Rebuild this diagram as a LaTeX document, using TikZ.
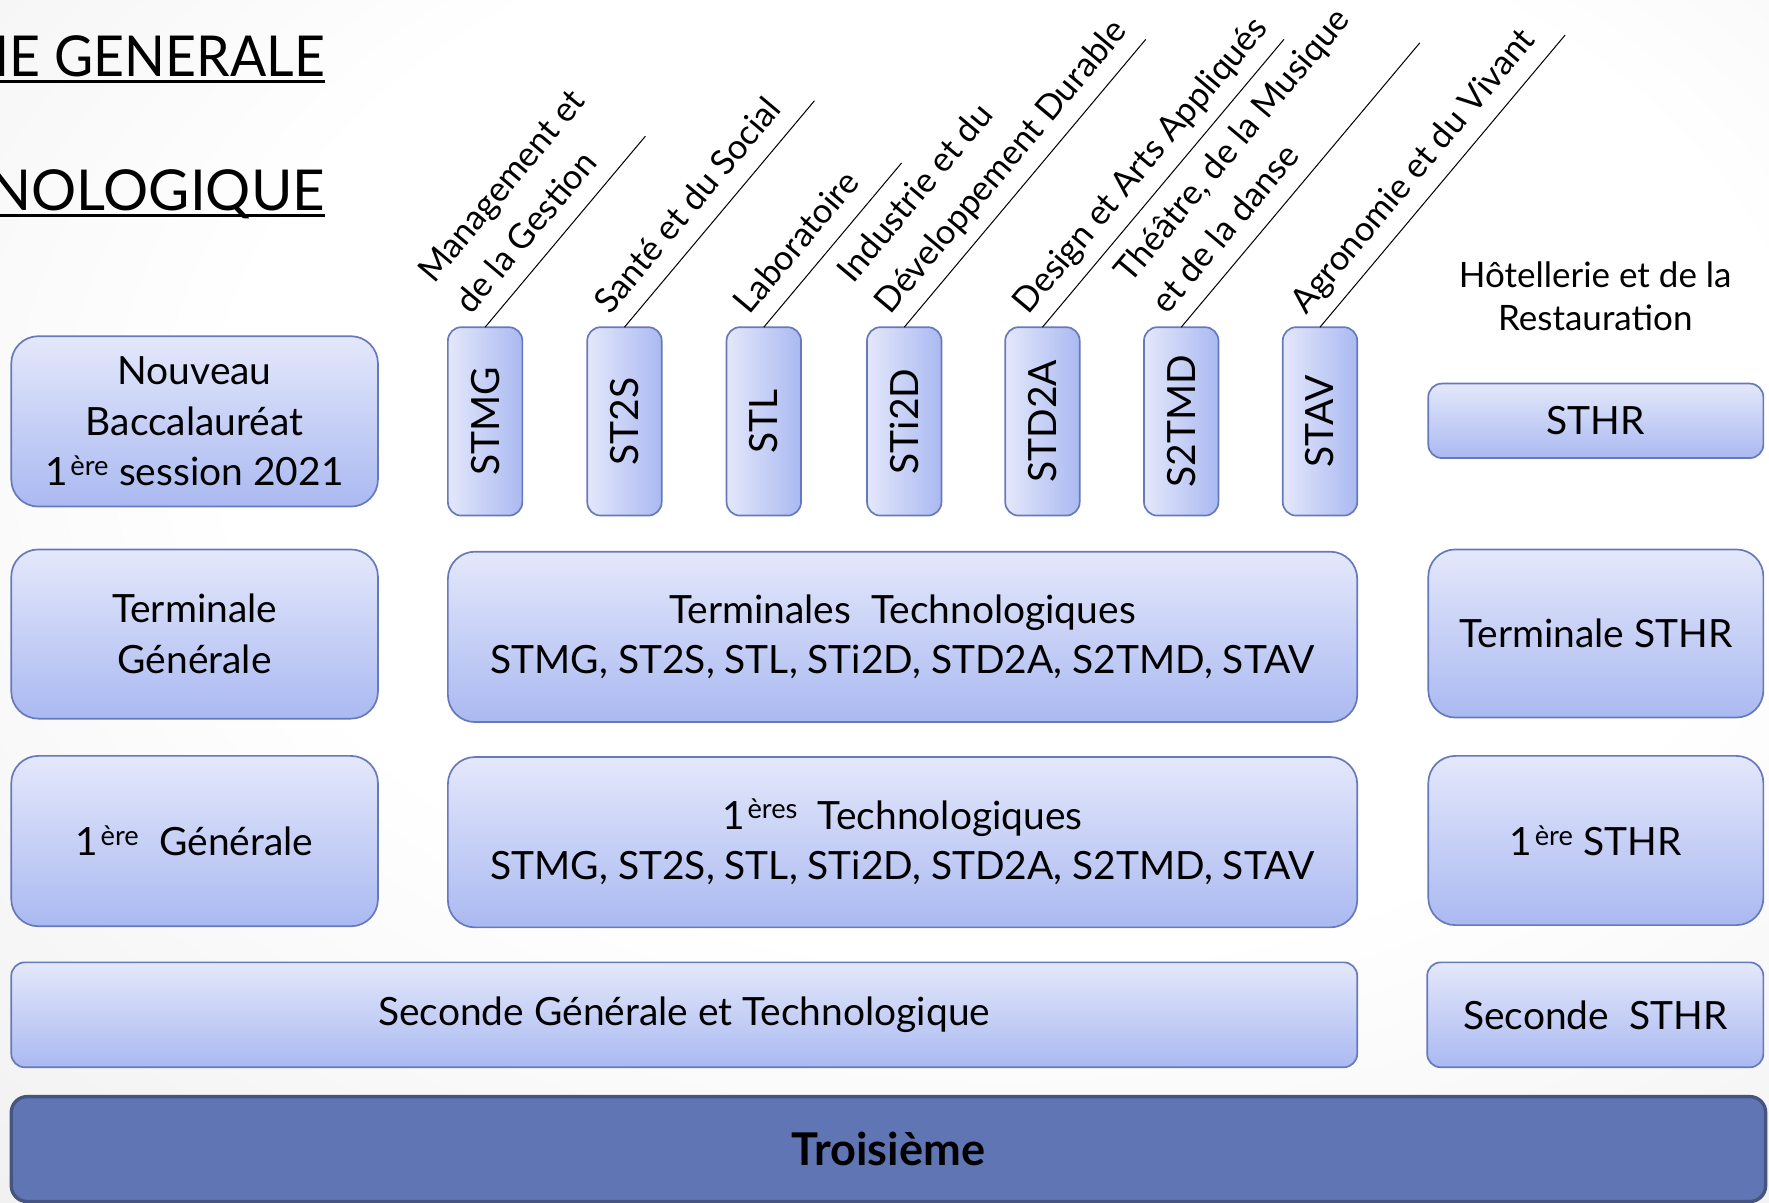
\documentclass[tikz,border=0pt]{standalone}
\usepackage{fontspec}
\setmainfont{Lato}
\usetikzlibrary{calc}
\definecolor{boxtop}{HTML}{E4E8FB}
\definecolor{boxbot}{HTML}{AAB9F1}
\definecolor{boxline}{HTML}{6679BB}
\definecolor{darkfill}{HTML}{6075B3}
\definecolor{darkline}{HTML}{46557F}
\definecolor{bggray}{HTML}{E6E6E6}
\newcommand\bxfont{\fontsize{34.5}{45}\selectfont}
\newcommand\lbfont{\fontsize{30.5}{43}\selectfont}
\newcommand\htfont{\fontsize{31}{38}\selectfont}
\newcommand\ttlfont{\fontsize{50}{60}\selectfont}
\pgfdeclareradialshading{bgshade}{\pgfpoint{5bp}{10bp}}{color(0bp)=(white);color(22bp)=(white);color(55bp)=(bggray);color(80bp)=(bggray)}
\begin{document}
\begin{tikzpicture}[x=1pt,y=-1pt,
  every node/.style={inner sep=0pt, outer sep=0pt},
  bigbox/.style={draw=boxline, line width=1.5pt, rounded corners=24pt, top color=boxtop, bottom color=boxbot, align=center, font=\bxfont},
  flatbox/.style={draw=boxline, line width=1.5pt, rounded corners=12pt, top color=boxtop, bottom color=boxbot, align=center, font=\bxfont},
  tallbox/.style={draw=boxline, line width=1.5pt, rounded corners=12pt, left color=boxtop, right color=boxbot, minimum width=66pt, minimum height=167pt, font=\bxfont},
  darkbox/.style={draw=darkline, line width=3pt, rounded corners=14pt, fill=darkfill, font=\fontsize{40}{48}\selectfont\bfseries},
  slant/.style={rotate=50, anchor=south west, align=left, text depth=0pt, font=\lbfont},
  leader/.style={draw=black, line width=0.9pt},
  title/.style={anchor=base east, font=\ttlfont},
]
\useasboundingbox (0,0) rectangle (1568,1066.3);
\shade[shading=bgshade] (0,0) rectangle (1568,1066.3);

% titles
\node[title, xscale=0.95] (t1) at (288,68) {IE GENERALE};
\node[title] (t2) at (288,187) {NOLOGIQUE};
\draw[line width=2.6pt] ($(t1.base west)+(0,4)$) -- ($(t1.base east)+(0,4)$);
\draw[line width=2.6pt] ($(t2.base west)+(0,4)$) -- ($(t2.base east)+(0,4)$);

% top row
\node[bigbox, minimum width=325pt, minimum height=151pt] (nb) at (172.5,373.5)
  {Nouveau\\Baccalauréat\\1\kern2pt\textsuperscript{ère} session 2021};
\node[tallbox] (stmg)  at (430,373.5)  {\rotatebox{90}{STMG}};
\node[tallbox] (st2s)  at (553.5,373.5){\rotatebox{90}{ST2S}};
\node[tallbox] (stl)   at (677,373.5)  {\rotatebox{90}{STL}};
\node[tallbox] (sti2d) at (801.5,373.5){\rotatebox{90}{STi2D}};
\node[tallbox] (std2a) at (924,373.5)  {\rotatebox{90}{STD2A}};
\node[tallbox] (s2tmd) at (1047,373.5) {\rotatebox{90}{S2TMD}};
\node[tallbox] (stav)  at (1170,373.5) {\rotatebox{90}{STAV}};
\node[flatbox, minimum width=297pt, minimum height=66pt] (sthr) at (1414.5,373) {STHR};
\node[anchor=south, align=center, text depth=0pt, font=\htfont] (hotel) at (1414,293) {Hôtellerie et de la\\Restauration};

% slanted labels and leaders
\coordinate (stmgE)  at ($(stmg.north)+(310:221)$);
\coordinate (st2sE)  at ($(st2s.north)+(310:262)$);
\coordinate (stlE)   at ($(stl.north)+(310:190)$);
\coordinate (sti2dE) at ($(sti2d.north)+(310:333)$);
\coordinate (std2aE) at ($(std2a.north)+(310:333)$);
\coordinate (s2tmdE) at ($(s2tmd.north)+(310:329)$);
\coordinate (stavE)  at ($(stav.north)+(310:338)$);
\draw[leader] (stmg.north) -- (stmgE);
\draw[leader] (st2s.north) -- (st2sE);
\draw[leader] (stl.north) -- (stlE);
\draw[leader] (sti2d.north) -- (sti2dE);
\draw[leader] (std2a.north) -- (std2aE);
\draw[leader] (s2tmd.north) -- (s2tmdE);
\draw[leader] (stav.north) -- (stavE);
\node[slant] (lstmg)  at ($(stmg.north)+(220:16)$)  {Management et\\de la Gestion};
\node[slant] (lst2s)  at ($(st2s.north)+(220:16)$)  {Santé et du Social};
\node[slant] (lstl)   at ($(stl.north)+(220:16)$)   {Laboratoire};
\node[slant] (lsti2d) at ($(sti2d.north)+(220:16)$) {Industrie et du\\Développement Durable};
\node[slant] (lstd2a) at ($(std2a.north)+(220:16)$) {Design et Arts Appliqués};
\node[slant] (ls2tmd) at ($(s2tmd.north)+(220:16)$) {Théâtre, de la Musique\\et de la danse};
\node[slant] (lstav)  at ($(stav.north)+(220:16)$)  {Agronomie et du Vivant};

% terminale row
\node[bigbox, minimum width=325pt, minimum height=150pt] (tg) at (172.5,562) {Terminale\\Générale};
\node[bigbox, minimum width=806pt, minimum height=151pt] (tt) at (800,564.5)
  {Terminales\ \ Technologiques\\STMG, ST2S, STL, STi2D, STD2A, S2TMD, STAV};
\node[bigbox, minimum width=297pt, minimum height=149pt] (ts) at (1414.5,561.5) {Terminale STHR};

% premiere row
\node[bigbox, minimum width=325pt, minimum height=151pt] (pg) at (172.5,745.5) {1\kern2pt\textsuperscript{ère}\ \ Générale};
\node[bigbox, minimum width=806pt, minimum height=151pt] (pt) at (800,746.5)
  {1\kern2pt\textsuperscript{ères}\ \ Technologiques\\STMG, ST2S, STL, STi2D, STD2A, S2TMD, STAV};
\node[bigbox, minimum width=297pt, minimum height=150pt] (ps) at (1414.5,745) {1\kern2pt\textsuperscript{ère} STHR};

% seconde row
\node[flatbox, minimum width=1193pt, minimum height=93pt] (sg) at (606.5,899.5) {Seconde Générale et Technologique};
\node[flatbox, minimum width=298pt, minimum height=93pt] (ss) at (1414,899.5) {Seconde\ \ STHR};

% troisieme
\node[darkbox, minimum width=1555pt, minimum height=93pt] (tr) at (787.5,1018.5) {Troisième};
\end{tikzpicture}
\end{document}
